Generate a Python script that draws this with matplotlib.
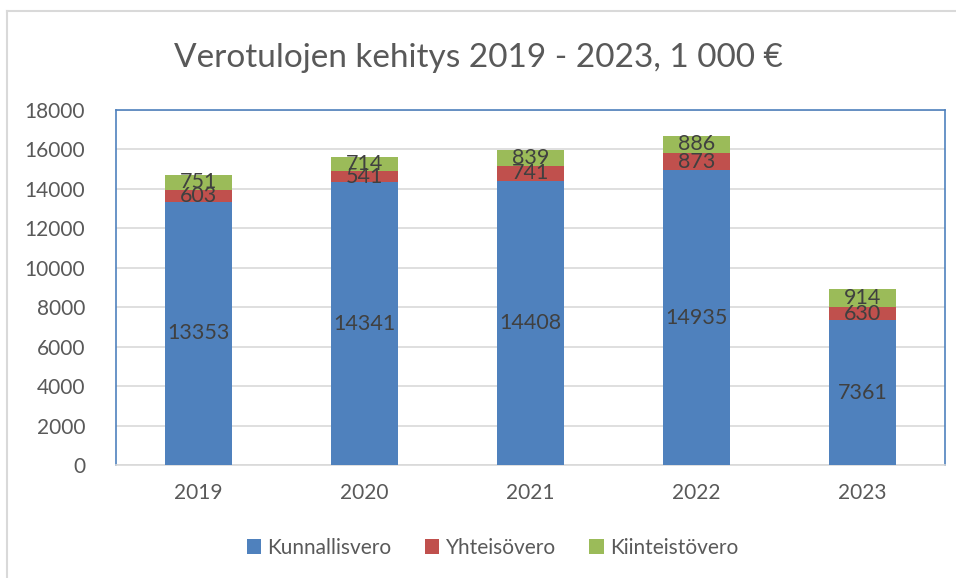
import matplotlib.pyplot as plt
from matplotlib.lines import Line2D
import numpy as np

plt.rcParams['font.family'] = ['Lato', 'DejaVu Sans']

years = ['2019', '2020', '2021', '2022', '2023']
kunnallisvero = [13353, 14341, 14408, 14935, 7361]
yhteisovero = [603, 541, 741, 873, 630]
kiinteistovero = [751, 714, 839, 886, 914]

series = [
    ('Kunnallisvero', kunnallisvero, '#4f81bd'),
    ('Yhteisövero', yhteisovero, '#c0504d'),
    ('Kiinteistövero', kiinteistovero, '#9bbb59'),
]

fig = plt.figure(figsize=(9.56, 5.78), dpi=100)
ax = fig.add_axes([0.121, 0.195, 0.868, 0.615])

# kaavion reunaviivat (vasen ja ylä)
fig.add_artist(Line2D([7 / 956, 7 / 956], [0, 1 - 11 / 578], color='#d9d9d9', lw=1.5))
fig.add_artist(Line2D([7 / 956, 1], [1 - 11 / 578, 1 - 11 / 578], color='#d9d9d9', lw=1.5))

x = np.arange(len(years))
bottom = np.zeros(len(years))
for name, vals, color in series:
    vals = np.array(vals)
    ax.bar(x, vals, width=0.40, bottom=bottom, color=color, label=name, zorder=3)
    for xi, b, v in zip(x, bottom, vals):
        ax.text(xi, b + v / 2, str(v), ha='center', va='center',
                fontsize=15.5, color='#404040', zorder=4)
    bottom = bottom + vals

ax.set_xlim(-0.5, 4.5)
ax.set_ylim(0, 18000)
ax.set_yticks(range(0, 18001, 2000))
ax.set_xticks(x)
ax.set_xticklabels(years)
ax.tick_params(axis='both', length=0, labelsize=15, colors='#595959')
ax.tick_params(axis='y', pad=22)
ax.tick_params(axis='x', pad=13)
ax.yaxis.grid(True, color='#d9d9d9', linewidth=1.2, zorder=0)

for side in ['left', 'top', 'right']:
    ax.spines[side].set_color('#4f81bd')
    ax.spines[side].set_linewidth(1.2)
ax.spines['bottom'].set_color('#d9d9d9')
ax.spines['bottom'].set_linewidth(1.2)

fig.suptitle('Verotulojen kehitys 2019 - 2023, 1 000 €', x=0.5, y=0.90,
             va='center', fontsize=24, color='#595959')

fig.legend(loc='center', bbox_to_anchor=(0.515, 0.052), ncol=3, frameon=False,
           fontsize=15, labelcolor='#595959', handlelength=0.7, handleheight=0.7,
           columnspacing=1.6, handletextpad=0.3)

fig.savefig('out.png', dpi=100)
